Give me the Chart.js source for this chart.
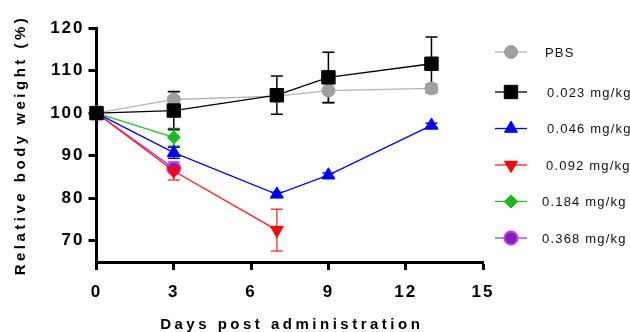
<!DOCTYPE html>
<html>
<head>
<meta charset="utf-8">
<script src="https://cdn.jsdelivr.net/npm/chart.js@4.4.1/dist/chart.umd.min.js"></script>
<style>
  html, body { margin: 0; padding: 0; background: #fff; }
  #wrap { width: 630px; height: 332px; }
</style>
</head>
<body>
<div id="wrap"><canvas id="bodyWeightChart" width="630" height="332"></canvas></div>
<script>
document.addEventListener( "DOMContentLoaded", () => {

    // Data
    // ----------------------------------------------
    const seriesLabels = ['PBS', '0.023 mg/kg', '0.046 mg/kg', '0.092 mg/kg', '0.184 mg/kg', '0.368 mg/kg'];

    const pbsDays    = [0, 3, 7, 9, 13];
    const pbsMean    = [100, 103.2, 104.0, 105.3, 105.8];
    const pbsErr     = [0, 1.8, 1.0, 2.9, 1.0];

    const dose023Days = [0, 3, 7, 9, 13];
    const dose023Mean = [100, 100.6, 104.2, 108.4, 111.6];
    const dose023Err  = [0, 4.5, 4.5, 5.9, 6.3];

    const dose046Days = [0, 3, 7, 9, 13];
    const dose046Mean = [100, 90.7, 80.9, 85.4, 97.1];
    const dose046Err  = [0, 1.3, 0.5, 0.5, 0.5];

    const dose092Days = [0, 3, 7];
    const dose092Mean = [100, 86.4, 72.5];
    const dose092Err  = [0, 2.1, 4.9];

    const dose184Days = [0, 3];
    const dose184Mean = [100, 94.3];
    const dose184Err  = [0, 2.1];

    const dose368Days = [0, 3];
    const dose368Mean = [100, 87.0];
    const dose368Err  = [0, 0.8];

    const xTicks = [0, 3, 6, 9, 12, 15];
    const yTicks = [70, 80, 90, 100, 110, 120];

    const FONT = '"Liberation Sans", Arial, sans-serif';

    const toPoints = ( days, mean ) => days.map( ( d, i ) => ({ x: d, y: mean[i] }) );

    // Error bars (vertical, with caps)
    // ----------------------------------------------
    const errorBars = {
        id: 'errorBars',
        beforeDatasetsDraw( chart ) {
            const ctx = chart.ctx;
            const xs = chart.scales.x, ys = chart.scales.y;
            chart.data.datasets.forEach( ( ds, i ) => {
                if ( !chart.isDatasetVisible( i ) ) return;
                ctx.save();
                ctx.strokeStyle = ds.errColor || ds.borderColor;
                ctx.lineWidth = 1.5;
                ds.data.forEach( ( p, j ) => {
                    const e = ds.errors[j];
                    if ( !e ) return;
                    const px = xs.getPixelForValue( p.x );
                    const top = ys.getPixelForValue( p.y + e );
                    const bot = ys.getPixelForValue( p.y - e );
                    ctx.beginPath();
                    ctx.moveTo( px, top ); ctx.lineTo( px, bot );
                    ctx.moveTo( px - 6, top ); ctx.lineTo( px + 6, top );
                    ctx.moveTo( px - 6, bot ); ctx.lineTo( px + 6, bot );
                    ctx.stroke();
                });
                ctx.restore();
            });
        }
    };

    // Spaced lettering, axis titles and the legend on the right
    // ----------------------------------------------
    const decorations = {
        id: 'decorations',
        beforeDraw( chart ) {
            chart.ctx.letterSpacing = '2px';
        },
        afterDraw( chart ) {
            const ctx = chart.ctx;
            const area = chart.chartArea;
            ctx.save();
            ctx.letterSpacing = '3.5px';
            ctx.fillStyle = '#000';
            ctx.font = 'bold 15px ' + FONT;
            ctx.textAlign = 'center';
            ctx.textBaseline = 'alphabetic';
            ctx.fillText( 'Days post administration', ( area.left + area.right ) / 2 + 2, 329 );
            ctx.translate( 25, ( area.top + area.bottom ) / 2 );
            ctx.rotate( -Math.PI / 2 );
            ctx.fillText( 'Relative body weight (%)', 0, 0 );
            ctx.restore();

            // legend
            const rowsY = [52, 92, 128.5, 165, 201.5, 238];
            const textX = [545, 547, 547, 546, 542, 542];
            ctx.save();
            ctx.letterSpacing = '1.2px';
            ctx.font = '13px ' + FONT;
            ctx.textBaseline = 'middle';
            ctx.textAlign = 'left';
            chart.data.datasets.forEach( ( ds, i ) => {
                const y = rowsY[i];
                ctx.strokeStyle = ds.borderColor;
                ctx.lineWidth = 1.3;
                ctx.beginPath();
                ctx.moveTo( 495, y ); ctx.lineTo( 527, y );
                ctx.stroke();
                ctx.fillStyle = ds.pointBackgroundColor;
                ctx.strokeStyle = ds.pointBorderColor;
                ctx.lineWidth = ds.pointBorderWidth;
                Chart.helpers.drawPoint( ctx, {
                    pointStyle: ds.pointStyle,
                    radius: ds.pointRadius,
                    rotation: ds.pointRotation || 0,
                    borderWidth: ds.pointBorderWidth
                }, 511, y );
                ctx.fillStyle = '#111';
                ctx.fillText( ds.label, textX[i], y + 1 );
            });
            ctx.restore();
            ctx.letterSpacing = '0px';
        }
    };

    const makeSet = ( label, days, mean, err, line, fill, border, style, radius, order, extra ) => Object.assign({
        label: label,
        data: toPoints( days, mean ),
        errors: err,
        borderColor: line,
        borderWidth: 1.3,
        pointBackgroundColor: fill,
        pointBorderColor: border,
        pointBorderWidth: 1,
        pointStyle: style,
        pointRadius: radius,
        pointHoverRadius: radius,
        tension: 0,
        clip: false,
        order: order
    }, extra || {} );

    new Chart( document.getElementById('bodyWeightChart'), {
        type: 'line',
        data: {
            datasets: [
                makeSet( seriesLabels[0], pbsDays, pbsMean, pbsErr, '#b4b4b4', '#a0a0a0', '#a0a0a0', 'circle', 6.5, 5, { errColor: '#555' } ),
                makeSet( seriesLabels[1], dose023Days, dose023Mean, dose023Err, '#000000', '#000000', '#000000', 'rect', 9.5, 0 ),
                makeSet( seriesLabels[2], dose046Days, dose046Mean, dose046Err, '#0000ff', '#0000ff', '#0000ff', 'triangle', 7.5, 2 ),
                makeSet( seriesLabels[3], dose092Days, dose092Mean, dose092Err, '#ff1a1a', '#ff0000', '#ff0000', 'triangle', 7.5, 1, { pointRotation: 180, errColor: '#ff4040' } ),
                makeSet( seriesLabels[4], dose184Days, dose184Mean, dose184Err, '#22c022', '#10c010', '#10c010', 'rectRot', 6.5, 3, { errColor: '#108010' } ),
                makeSet( seriesLabels[5], dose368Days, dose368Mean, dose368Err, '#b030f0', '#8a1cb8', '#b040ff', 'circle', 6.5, 4, { pointBorderWidth: 2 } )
            ]
        },
        options: {
            responsive: false,
            animation: false,
            events: [],
            layout: {
                padding: { top: 28, right: 147, left: 0, bottom: 0 }
            },
            plugins: {
                legend: { display: false },
                tooltip: { enabled: false }
            },
            scales: {
                x: {
                    type: 'linear',
                    min: 0,
                    max: 15,
                    afterBuildTicks: scale => { scale.ticks = xTicks.map( v => ({ value: v }) ); },
                    afterFit: scale => { scale.height = 70; },
                    grid: {
                        drawOnChartArea: false,
                        drawTicks: true,
                        tickLength: 8,
                        tickWidth: 3,
                        tickColor: '#000'
                    },
                    border: { color: '#000', width: 3 },
                    ticks: {
                        font: { family: FONT, size: 17, weight: 'bold' },
                        color: '#000',
                        padding: 12,
                        maxRotation: 0
                    }
                },
                y: {
                    min: 65,
                    max: 120,
                    afterBuildTicks: scale => { scale.ticks = yTicks.map( v => ({ value: v }) ); },
                    afterFit: scale => { scale.width = 96.5; },
                    grid: {
                        drawOnChartArea: false,
                        drawTicks: true,
                        tickLength: 8,
                        tickWidth: 3,
                        tickColor: '#000'
                    },
                    border: { color: '#000', width: 3 },
                    ticks: {
                        font: { family: FONT, size: 17, weight: 'bold' },
                        color: '#000',
                        padding: 4
                    }
                }
            }
        },
        plugins: [ errorBars, decorations ]
    });

});
</script>
</body>
</html>
